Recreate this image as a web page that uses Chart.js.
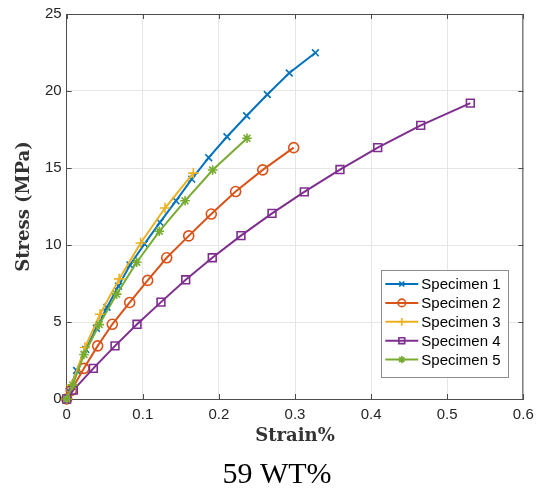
<!DOCTYPE html>
<html>
<head>
<meta charset="utf-8">
<script src="https://cdn.jsdelivr.net/npm/chart.js@4/dist/chart.umd.min.js"></script>
<style>
  html, body { margin: 0; padding: 0; background: #fff; }
  #wrap { width: 545px; height: 495px; }
</style>
</head>
<body>
<div id="wrap"><canvas id="myChart"></canvas></div>
<script>
// values (strain %, stress MPa)
const names = ['Specimen 1', 'Specimen 2', 'Specimen 3', 'Specimen 4', 'Specimen 5'];
const caption = '59 WT%';

const strain1 = [0, 0.003, 0.013, 0.025, 0.039, 0.053, 0.068, 0.0832, 0.1022, 0.1226, 0.1436, 0.1643, 0.1866, 0.2106, 0.2365, 0.2636, 0.2925, 0.3268];
const stress1 = [0, 0.5, 1.85, 3.22, 4.59, 5.96, 7.33, 8.7, 10.07, 11.47, 12.87, 14.28, 15.67, 17.03, 18.39, 19.77, 21.17, 22.48];

const strain2 = [0, 0.006, 0.0227, 0.0407, 0.0599, 0.0828, 0.1064, 0.1314, 0.1603, 0.19, 0.222, 0.2576, 0.2983];
const stress2 = [0, 0.56, 1.99, 3.45, 4.85, 6.27, 7.70, 9.17, 10.59, 12.01, 13.47, 14.88, 16.32];

const strain3 = [0, 0.0066, 0.024, 0.0438, 0.069, 0.0972, 0.1292, 0.1664];
const stress3 = [0, 0.9, 3.34, 5.5, 7.8, 10.13, 12.4, 14.67];

const strain4 = [0, 0.0087, 0.035, 0.0635, 0.0924, 0.1239, 0.1564, 0.1913, 0.229, 0.2698, 0.3122, 0.3591, 0.4087, 0.4652, 0.5304];
const stress4 = [0, 0.58, 1.99, 3.45, 4.85, 6.29, 7.74, 9.17, 10.61, 12.05, 13.45, 14.9, 16.32, 17.77, 19.21];

const strain5 = [0, 0.0079, 0.0227, 0.0428, 0.0657, 0.092, 0.1217, 0.1555, 0.1918, 0.2369];
const stress5 = [0, 0.9, 2.89, 4.83, 6.81, 8.88, 10.89, 12.87, 14.87, 16.93];

const colors = ['#0072BD', '#D95319', '#EDB120', '#7E2F8E', '#77AC30'];
const markers = ['crossRot', 'circle', 'cross', 'rect', 'star'];
const markerSize = [4.8, 5, 5.2, 5.5, 4.8];

const pairs = [[strain1, stress1], [strain2, stress2], [strain3, stress3], [strain4, stress4], [strain5, stress5]];

const datasets = pairs.map(([xs, ys], i) => ({
  label: names[i],
  data: xs.map((x, k) => ({ x, y: ys[k] })),
  borderColor: colors[i],
  backgroundColor: 'rgba(0,0,0,0)',
  pointBorderColor: colors[i],
  pointBackgroundColor: 'rgba(0,0,0,0)',
  pointStyle: markers[i],
  pointRadius: markerSize[i],
  pointBorderWidth: 1.6,
  borderWidth: 2,
  showLine: true,
  tension: 0,
  clip: false,
  order: 5 - i,   // later series on top, like matlab
}));

const tickColor = '#262626';
const labelFont = { family: '"DejaVu Serif", serif', size: 18, weight: 'bold' };

// box on + inward ticks
const boxPlugin = {
  id: 'box',
  beforeDatasetsDraw(chart) {
    const { ctx, chartArea: a, scales } = chart;
    ctx.save();
    ctx.strokeStyle = '#4d4d4d';
    ctx.lineWidth = 1;
    ctx.beginPath();
    ctx.moveTo(a.left, a.top + 0.5); ctx.lineTo(a.right, a.top + 0.5);
    ctx.moveTo(a.right - 0.5, a.top); ctx.lineTo(a.right - 0.5, a.bottom);
    scales.x.ticks.forEach(t => {
      const px = Math.round(scales.x.getPixelForValue(t.value)) + 0.5;
      ctx.moveTo(px, a.bottom); ctx.lineTo(px, a.bottom - 5);
      ctx.moveTo(px, a.top); ctx.lineTo(px, a.top + 5);
    });
    scales.y.ticks.forEach(t => {
      const py = Math.round(scales.y.getPixelForValue(t.value)) + 0.5;
      ctx.moveTo(a.left, py); ctx.lineTo(a.left + 5, py);
      ctx.moveTo(a.right, py); ctx.lineTo(a.right - 5, py);
    });
    ctx.stroke();
    ctx.restore();
  }
};

// legend box inside the axes, bottom right
const legendPlugin = {
  id: 'boxLegend',
  afterDraw(chart) {
    const { ctx, chartArea: a } = chart;
    const w = 127, h = 107;
    const x0 = a.right - 15 - w, y0 = a.bottom - 22 - h;
    ctx.save();
    ctx.fillStyle = '#fff';
    ctx.fillRect(x0, y0, w, h);
    ctx.strokeStyle = '#8c8c8c';
    ctx.lineWidth = 1;
    ctx.strokeRect(Math.round(x0) + 0.5, Math.round(y0) + 0.5, w, h);
    ctx.font = '15px "Liberation Sans", Arial, sans-serif';
    ctx.textBaseline = 'middle';
    chart.data.datasets.forEach((ds, i) => {
      const yy = y0 + 14 + i * 18.9;
      ctx.strokeStyle = ds.borderColor;
      ctx.lineWidth = 2;
      ctx.beginPath();
      ctx.moveTo(x0 + 4, yy); ctx.lineTo(x0 + 37, yy);
      ctx.stroke();
      ctx.lineWidth = 1.6;
      ctx.fillStyle = 'rgba(0,0,0,0)';
      Chart.helpers.drawPoint(ctx, { pointStyle: ds.pointStyle, radius: ds.pointRadius * 0.75, borderWidth: 1.6, rotation: 0 }, x0 + 20.5, yy);
      ctx.fillStyle = '#000';
      ctx.fillText(ds.label, x0 + 40, yy + 1);
    });
    ctx.restore();
  }
};

// figure caption under the axes
const captionPlugin = {
  id: 'caption',
  afterDraw(chart) {
    const { ctx } = chart;
    ctx.save();
    ctx.fillStyle = '#000';
    ctx.font = '30px "Liberation Serif", "Times New Roman", serif';
    ctx.textAlign = 'center';
    ctx.textBaseline = 'middle';
    ctx.fillText(caption, 277, 475);
    ctx.restore();
  }
};

new Chart(document.getElementById('myChart'), {
  type: 'scatter',
  data: { datasets },
  options: {
    animation: false,
    responsive: true,
    maintainAspectRatio: false,
    layout: { padding: { left: 0, right: 21.7, top: 12.5, bottom: 0 } },
    plugins: {
      legend: { display: false },
      tooltip: { enabled: false },
    },
    scales: {
      x: {
        type: 'linear',
        min: 0,
        max: 0.6,
        ticks: { stepSize: 0.1, color: tickColor, padding: 7, font: { family: '"Liberation Sans", Arial, sans-serif', size: 15 } },
        grid: { color: '#e6e6e6', drawTicks: false },
        border: { color: '#4d4d4d' },
        title: {
          display: true,
          text: 'Strain%',
          color: '#333',
          font: labelFont,
          padding: { top: 0, bottom: 48 },
        },
        afterFit(scale) { scale.height = 96; },
      },
      y: {
        type: 'linear',
        min: 0,
        max: 25,
        ticks: { stepSize: 5, color: tickColor, padding: 5, font: { family: '"Liberation Sans", Arial, sans-serif', size: 15 } },
        grid: { color: '#e6e6e6', drawTicks: false },
        border: { color: '#4d4d4d' },
        title: {
          display: true,
          text: 'Stress (MPa)',
          color: '#333',
          font: labelFont,
          padding: { top: 14, bottom: 0 },
        },
        afterFit(scale) { scale.width = 66.7; },
      },
    },
  },
  plugins: [boxPlugin, legendPlugin, captionPlugin],
});
</script>
</body>
</html>
